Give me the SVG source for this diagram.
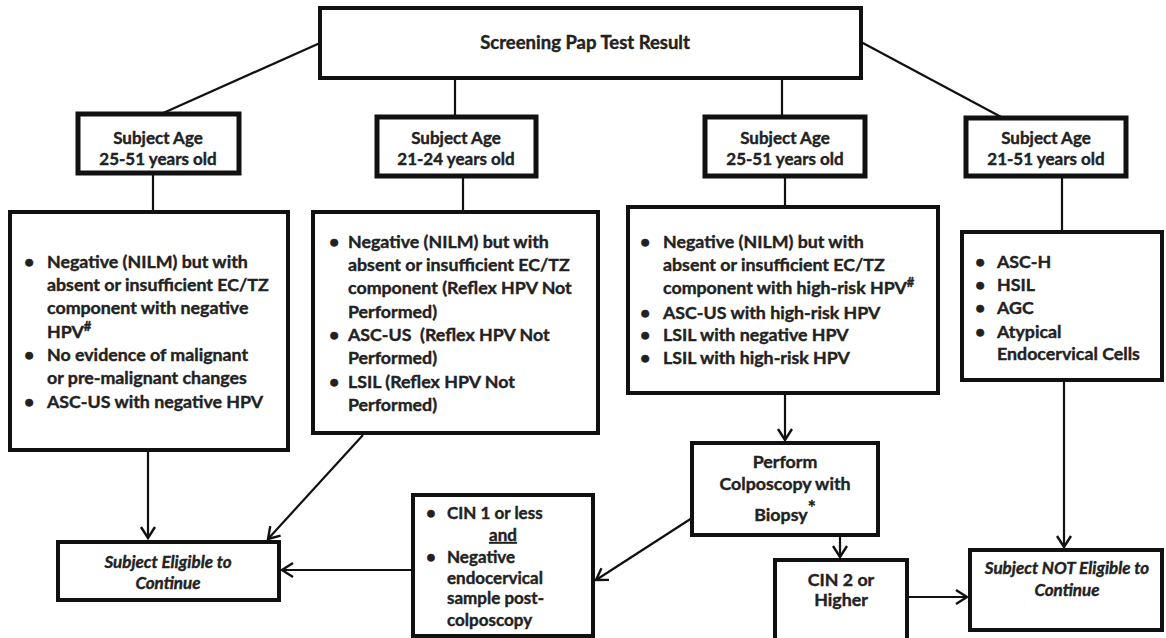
<svg xmlns="http://www.w3.org/2000/svg" width="1166" height="638" viewBox="0 0 1166 638">
<defs>
<marker id="arr" markerUnits="userSpaceOnUse" markerWidth="18" markerHeight="18" refX="12" refY="8" orient="auto">
<path d="M1,1 L12,8 L1,15" fill="none" stroke="#111" stroke-width="2.4"/>
</marker>
<style>
.box{fill:#fff;stroke:#111;stroke-width:4}
.age{fill:#fff;stroke:#111;stroke-width:5}
.t{font-family:Lato,"Open Sans",sans-serif;font-weight:bold;font-size:17.8px;fill:#222;stroke:#222;stroke-width:0.4}
.s{font-size:17px}
.ttl{font-size:18.5px}
.c{text-anchor:middle}
.i{font-style:italic}
.ln{stroke:#111;stroke-width:2.2;fill:none}
.sup{font-size:13px}
</style>
</defs>
<rect width="1166" height="638" fill="#fff"/>
<g id="connectors">
<line class="ln" x1="320" y1="43" x2="161" y2="114"/>
<line class="ln" x1="455" y1="78" x2="455" y2="117"/>
<line class="ln" x1="782" y1="78" x2="782" y2="117"/>
<line class="ln" x1="861" y1="42" x2="1003" y2="118"/>
<line class="ln" x1="153" y1="173" x2="153" y2="212"/>
<line class="ln" x1="463" y1="176" x2="463" y2="212"/>
<line class="ln" x1="785" y1="176" x2="785" y2="207"/>
<line class="ln" x1="1062" y1="176" x2="1062" y2="232"/>
<line class="ln" x1="148" y1="450" x2="148" y2="538" marker-end="url(#arr)"/>
<line class="ln" x1="363" y1="435" x2="268" y2="539" marker-end="url(#arr)"/>
<line class="ln" x1="411" y1="570" x2="282" y2="570" marker-end="url(#arr)"/>
<line class="ln" x1="692" y1="518" x2="596" y2="580" marker-end="url(#arr)"/>
<line class="ln" x1="785" y1="393" x2="785" y2="440" marker-end="url(#arr)"/>
<line class="ln" x1="840" y1="535" x2="840" y2="557" marker-end="url(#arr)"/>
<line class="ln" x1="1064" y1="380" x2="1064" y2="547" marker-end="url(#arr)"/>
<line class="ln" x1="907" y1="597" x2="967" y2="597" marker-end="url(#arr)"/>
</g>
<g id="top">
<rect class="box" x="320" y="8" width="541" height="70"/>
<text class="t ttl c" x="585" y="49">Screening Pap Test Result</text>
</g>
<g id="age1">
<rect class="age" x="78" y="114" width="161" height="59"/>
<text class="t s c" x="158" y="144">Subject Age</text>
<text class="t s c" x="158" y="165">25-51 years old</text>
</g>
<g id="age2">
<rect class="age" x="377" y="117" width="159" height="59"/>
<text class="t s c" x="456" y="144">Subject Age</text>
<text class="t s c" x="456" y="165">21-24 years old</text>
</g>
<g id="age3">
<rect class="age" x="705" y="117" width="160" height="59"/>
<text class="t s c" x="785" y="144">Subject Age</text>
<text class="t s c" x="785" y="165">25-51 years old</text>
</g>
<g id="age4">
<rect class="age" x="966" y="118" width="160" height="58"/>
<text class="t s c" x="1046" y="144">Subject Age</text>
<text class="t s c" x="1046" y="165">21-51 years old</text>
</g>
<g id="box1">
<rect class="box" x="10" y="212" width="278" height="238"/>
<text class="t" x="24" y="268">•</text><text class="t" x="47" y="268">Negative (NILM) but with</text>
<text class="t" x="47" y="291">absent or insufficient EC/TZ</text>
<text class="t" x="47" y="314">component with negative</text>
<text class="t" x="47" y="338">HPV<tspan class="sup" dy="-7">#</tspan></text>
<text class="t" x="24" y="361">•</text><text class="t" x="47" y="361">No evidence of malignant</text>
<text class="t" x="47" y="384">or pre-malignant changes</text>
<text class="t" x="24" y="408">•</text><text class="t" x="47" y="408">ASC-US with negative HPV</text>
</g>
<g id="box2">
<rect class="box" x="313" y="212" width="285" height="221"/>
<text class="t" x="329" y="248">•</text><text class="t" x="348" y="248">Negative (NILM) but with</text>
<text class="t" x="348" y="271">absent or insufficient EC/TZ</text>
<text class="t" x="348" y="294">component (Reflex HPV Not</text>
<text class="t" x="348" y="318">Performed)</text>
<text class="t" x="329" y="341">•</text><text class="t" x="348" y="341" xml:space="preserve">ASC-US  (Reflex HPV Not</text>
<text class="t" x="348" y="364">Performed)</text>
<text class="t" x="329" y="388">•</text><text class="t" x="348" y="388">LSIL (Reflex HPV Not</text>
<text class="t" x="348" y="411">Performed)</text>
</g>
<g id="box3">
<rect class="box" x="628" y="207" width="310" height="186"/>
<text class="t" x="640" y="248">•</text><text class="t" x="663" y="248">Negative (NILM) but with</text>
<text class="t" x="663" y="271">absent or insufficient EC/TZ</text>
<text class="t" x="663" y="294">component with high-risk HPV<tspan class="sup" dy="-7">#</tspan></text>
<text class="t" x="640" y="319">•</text><text class="t" x="663" y="319">ASC-US with high-risk HPV</text>
<text class="t" x="640" y="341">•</text><text class="t" x="663" y="341">LSIL with negative HPV</text>
<text class="t" x="640" y="364">•</text><text class="t" x="663" y="364">LSIL with high-risk HPV</text>
</g>
<g id="box4">
<rect class="box" x="962" y="232" width="200" height="148"/>
<text class="t" x="975" y="268">•</text><text class="t" x="997" y="268">ASC-H</text>
<text class="t" x="975" y="291">•</text><text class="t" x="997" y="291">HSIL</text>
<text class="t" x="975" y="314">•</text><text class="t" x="997" y="314">AGC</text>
<text class="t" x="975" y="338">•</text><text class="t" x="997" y="338">Atypical</text>
<text class="t" x="997" y="360">Endocervical Cells</text>
</g>
<g id="colposcopy">
<rect class="box" x="692" y="443" width="186" height="92"/>
<text class="t c" x="785" y="468">Perform</text>
<text class="t c" x="785" y="490">Colposcopy with</text>
<text class="t c" x="785" y="521">Biopsy<tspan font-size="19" dy="-7">*</tspan></text>
</g>
<g id="cin1">
<rect class="box" x="413" y="495" width="180" height="141"/>
<text class="t s" x="426" y="519">•</text><text class="t s" x="447" y="519">CIN 1 or less</text>
<text class="t s c" x="503" y="541" text-decoration="underline">and</text>
<text class="t s" x="426" y="563">•</text><text class="t s" x="447" y="563">Negative</text>
<text class="t s" x="447" y="584">endocervical</text>
<text class="t s" x="447" y="604">sample post-</text>
<text class="t s" x="447" y="626">colposcopy</text>
</g>
<g id="eligible">
<rect class="box" x="58" y="542" width="221" height="58"/>
<text class="t s c i" x="168" y="568">Subject Eligible to</text>
<text class="t s c i" x="168" y="589">Continue</text>
</g>
<g id="cin2">
<rect class="box" x="775" y="560" width="132" height="82"/>
<text class="t c" x="841" y="586">CIN 2 or</text>
<text class="t c" x="841" y="606">Higher</text>
</g>
<g id="noteligible">
<rect class="box" x="970" y="550" width="192" height="80"/>
<text class="t s c i" x="1067" y="574">Subject NOT Eligible to</text>
<text class="t s c i" x="1067" y="596">Continue</text>
</g>
</svg>
